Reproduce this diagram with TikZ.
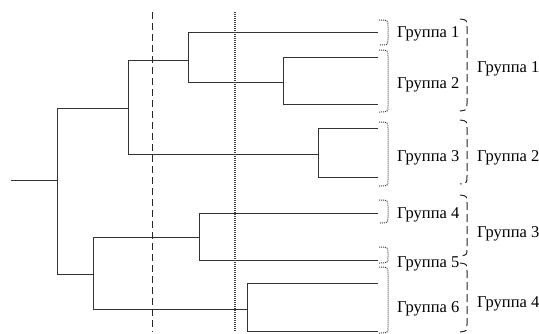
\documentclass[tikz,border=0pt]{standalone}
\usepackage{fontspec}
\setmainfont{Liberation Serif}
\begin{document}
\begin{tikzpicture}[x=1pt,y=-1pt,
  branch/.style={draw=black!80,line width=1pt},
  cutA/.style={draw=black!85,line width=1pt,dash pattern=on 7pt off 4pt},
  cutB/.style={draw=black!75,line width=1.2pt,dash pattern=on 1pt off 1pt},
  subbrace/.style={draw=black!75,line width=1pt,dash pattern=on 1pt off 1pt},
  bigbrace/.style={draw=black!85,line width=1pt,dash pattern=on 8pt off 4pt},
  grp/.style={anchor=base west,inner sep=0pt,font=\fontsize{16.5}{18}\selectfont}]
\useasboundingbox (0,0) rectangle (539,333);

% tree junctions
\coordinate (r)   at (11,180);
\coordinate (j0)  at (57,180);
\coordinate (a)   at (128,108);
\coordinate (b)   at (93,274);
\coordinate (a1)  at (188,60);
\coordinate (a12) at (283,82);
\coordinate (a2)  at (318,154);
\coordinate (b1)  at (199,237);
\coordinate (b2)  at (247,309);
% leaves
\coordinate (L1) at (378,32);
\coordinate (L2) at (378,57);
\coordinate (L3) at (378,104);
\coordinate (L4) at (378,128);
\coordinate (L5) at (378,177);
\coordinate (L6) at (378,213);
\coordinate (L7) at (378,260);
\coordinate (L8) at (378,283);
\coordinate (L9) at (378,331);

% dendrogram
\draw[branch] (r) -- (j0);
\draw[branch] (j0) |- (a);
\draw[branch] (j0) |- (b);
\draw[branch] (a) |- (a1);
\draw[branch] (a) |- (a2);
\draw[branch] (a1) |- (L1);
\draw[branch] (a1) |- (a12);
\draw[branch] (a12) |- (L2);
\draw[branch] (a12) |- (L3);
\draw[branch] (a2) |- (L4);
\draw[branch] (a2) |- (L5);
\draw[branch] (b) |- (b1);
\draw[branch] (b) |- (b2);
\draw[branch] (b1) |- (L6);
\draw[branch] (b1) |- (L7);
\draw[branch] (b2) |- (L8);
\draw[branch] (b2) |- (L9);

% cut levels
\coordinate (cA1) at (152,12);  \coordinate (cA2) at (152,332);
\coordinate (cB1) at (235,12);  \coordinate (cB2) at (235,331);
\draw[cutA] (cA1) -- (cA2);
\draw[cutB] (cB1) -- (cB2);

% small brackets for the fine partition
\foreach \t/\b in {20/45, 50/112, 122/186, 200/223, 247/263, 267/333}{
  \draw[subbrace] (379,\t) .. controls (388,\t) .. (388,\t+6)
     -- (388,\b-6) .. controls (388,\b) .. (379,\b);
}
% large brackets for the coarse partition
\foreach \t/\b in {19/111, 120/184, 195/256, 263/332}{
  \draw[bigbrace] (460,\t) .. controls (467,\t+1) .. (467,\t+8)
     -- (467,\b-8) .. controls (467,\b-1) .. (460,\b);
}

% labels of the fine partition
\node[grp] (g1) at (397,37)  {Группа 1};
\node[grp] (g2) at (397,88)  {Группа 2};
\node[grp] (g3) at (397,161.5) {Группа 3};
\node[grp] (g4) at (397,218) {Группа 4};
\node[grp] (g5) at (397,267) {Группа 5};
\node[grp] (g6) at (397,312) {Группа 6};
% labels of the coarse partition
\node[grp] (h1) at (477,72)  {Группа 1};
\node[grp] (h2) at (477,161.5) {Группа 2};
\node[grp] (h3) at (477,237) {Группа 3};
\node[grp] (h4) at (477,307) {Группа 4};
\end{tikzpicture}
\end{document}
